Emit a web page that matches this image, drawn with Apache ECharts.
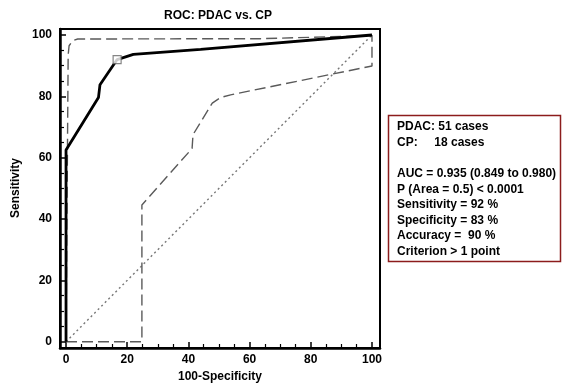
<!DOCTYPE html>
<html>
<head>
<meta charset="utf-8">
<script src="https://cdn.jsdelivr.net/npm/echarts@6/dist/echarts.min.js"></script>
<style>html,body{margin:0;padding:0;background:#fff}#c{width:563px;height:385px}</style>
</head>
<body>
<div id="c"></div>
<script>
// ---- data ----
var rocCurve = [[0,0],[0,62.5],[10.6,79.6],[11.1,83.8],[16.7,92],[22,93.7],[44,95.3],[100,100]];
var upperCI = [[0,0],[0.7,93.5],[1,96.5],[2.2,98.2],[3.8,98.7],[63.5,98.8],[64,99.4],[100,99.8]];
var lowerCI = [[0,0],[24.8,0],[24.8,44.6],[41.2,63],[41.5,67.5],[47.8,77.8],[50.5,79.6],[53.8,80.5],[100,89.9],[100,100]];
var diagonal = [[0,0],[100,100]];
var criterionPoint = [[16.7,92]];
var majorTicks = [0,20,40,60,80,100];
var minorTicks = [5,10,15,25,30,35,45,50,55,65,70,75,85,90,95];
var titleText = 'ROC: PDAC vs. CP';
var xName = '100-Specificity';
var yName = 'Sensitivity';
var infoLines = ['PDAC: 51 cases','CP:     18 cases','','AUC = 0.935 (0.849 to 0.980)','P (Area = 0.5) < 0.0001','Sensitivity = 92 %','Specificity = 83 %','Accuracy =  90 %','Criterion > 1 point'];

var FONT = '"Liberation Sans", Arial, sans-serif';
var chart = echarts.init(document.getElementById('c'), null, {renderer:'canvas'});
var xMin = -1.97, xMax = 102.62, yMin = -2.05, yMax = 101.96;

function axisPair(isX){
  var min = isX ? xMin : yMin, max = isX ? xMax : yMax;
  var common = {type:'value', min:min, max:max, splitLine:{show:false}, gridIndex:0};
  var major = Object.assign({}, common, {
    position: isX ? 'bottom' : 'left',
    axisLine:{show:true, onZero:false, lineStyle:{color:'#000', width:2.5}},
    axisTick:{show:true, inside:true, length:6, customValues:majorTicks, lineStyle:{color:'#000', width:1.5}},
    axisLabel:{show:true, customValues:majorTicks, color:'#000', fontWeight:'bold', fontSize:12, fontFamily:FONT, margin: isX ? 6 : 8}
  });
  var minor = Object.assign({}, common, {
    position: isX ? 'bottom' : 'left',
    axisLine:{show:false, onZero:false},
    axisTick:{show:true, inside:true, length:4, customValues:minorTicks, lineStyle:{color:'#000', width:1.2}},
    axisLabel:{show:false}
  });
  return [major, minor];
}

var dashGray = {color:'#5a5a5a', width:1.4, type:[11,5]};

var gfx = [
  {type:'text', style:{text:titleText, font:'bold 12px '+FONT, fill:'#000', textAlign:'center', textVerticalAlign:'middle'}, x:218, y:16},
  {type:'text', style:{text:xName, font:'bold 12px '+FONT, fill:'#000', textAlign:'center', textVerticalAlign:'middle'}, x:220, y:377},
  {type:'text', style:{text:yName, font:'bold 12px '+FONT, fill:'#000', textAlign:'center', textVerticalAlign:'middle'}, x:16, y:188, rotation:Math.PI/2},
  {type:'rect', shape:{x:388.5, y:115.5, width:172, height:146}, style:{fill:'#fff', stroke:'#8c1c1c', lineWidth:1.5}}
];
infoLines.forEach(function(t, i){
  if (t) gfx.push({type:'text', style:{text:t, font:'bold 12px '+FONT, fill:'#000', textAlign:'left', textVerticalAlign:'middle'}, x:397, y:127 + i*15.55});
});

var xs = axisPair(true), ys = axisPair(false);
chart.setOption({
  animation:false,
  backgroundColor:'#fff',
  grid:{left:60, right:183, top:29, bottom:37, show:true, borderColor:'#000', borderWidth:2, containLabel:false},
  xAxis: xs,
  yAxis: ys,
  graphic: gfx,
  series:[
    {type:'line', data:diagonal, symbol:'none', lineStyle:{color:'#777', width:1.4, type:[2,3]}, z:1},
    {type:'line', data:upperCI, symbol:'none', lineStyle:dashGray, z:2},
    {type:'line', data:lowerCI, symbol:'none', lineStyle:dashGray, z:2},
    {type:'line', data:rocCurve, symbol:'none', lineStyle:{color:'#000', width:2.8}, z:3},
    {type:'scatter', data:criterionPoint, symbol:'rect', symbolSize:8, itemStyle:{color:'#fff', borderColor:'#666', borderWidth:1.2}, z:4}
  ]
});
</script>
</body>
</html>
